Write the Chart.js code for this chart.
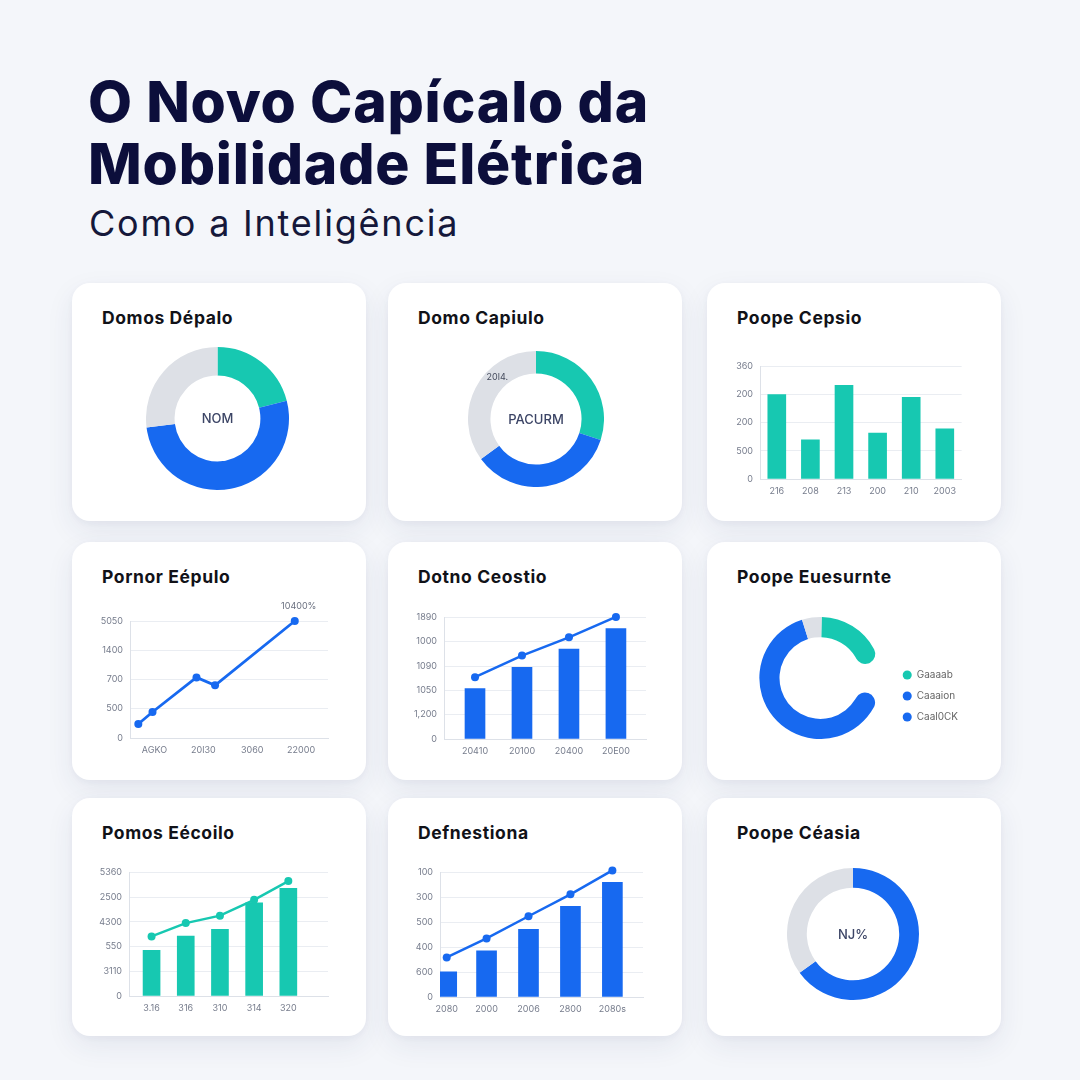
<!DOCTYPE html>
<html lang="pt">
<head>
<meta charset="utf-8">
<title>O Novo Capícalo da Mobilidade Elétrica</title>
<script src="https://cdn.jsdelivr.net/npm/chart.js@4.4.1/dist/chart.umd.min.js"></script>
<style>
  html, body { margin: 0; padding: 0; }
  body {
    width: 1080px; height: 1080px; position: relative; overflow: hidden;
    background: #f4f6fa;
    font-family: Inter, "Noto Sans", sans-serif;
  }
  h1 {
    position: absolute; left: 88px; top: 71px; margin: 0;
    font-size: 57px; line-height: 62px; font-weight: 800; color: #0c0e3b; letter-spacing: 0.8px;
  }
  .sub {
    position: absolute; left: 89px; top: 203px; margin: 0;
    font-size: 36px; line-height: 40px; font-weight: 400; color: #15183a; letter-spacing: 1.8px;
  }
  .card {
    position: absolute; width: 294px; height: 238px; background: #fff; border-radius: 18px;
    box-shadow: 0 10px 28px rgba(40, 55, 100, 0.08), 0 2px 6px rgba(40, 55, 100, 0.04);
  }
  .card h2 {
    position: absolute; left: 30px; top: 24px; margin: 0;
    font-size: 17.5px; line-height: 21px; font-weight: 700; color: #111218; letter-spacing: 0.6px;
  }
  .box { position: absolute; }
</style>
</head>
<body>

<h1>O Novo Capícalo da<br>Mobilidade Elétrica</h1>
<p class="sub">Como a Inteligência</p>

<div class="card" style="left:72px;top:283px"><h2>Domos Dépalo</h2>
  <div class="box" style="left:74px;top:64px;width:143px;height:143px"><canvas id="g1"></canvas></div></div>
<div class="card" style="left:388px;top:283px"><h2>Domo Capiulo</h2>
  <div class="box" style="left:80px;top:68px;width:136px;height:136px"><canvas id="g2"></canvas></div></div>
<div class="card" style="left:707px;top:283px"><h2>Poope Cepsio</h2>
  <div class="box" style="left:29px;top:71px;width:227px;height:145px"><canvas id="g3"></canvas></div></div>

<div class="card" style="left:72px;top:542px"><h2>Pornor Eépulo</h2>
  <div class="box" style="left:28px;top:53px;width:232px;height:163px"><canvas id="g4"></canvas></div></div>
<div class="card" style="left:388px;top:542px"><h2>Dotno Ceostio</h2>
  <div class="box" style="left:26px;top:63px;width:236px;height:154px"><canvas id="g5"></canvas></div></div>
<div class="card" style="left:707px;top:542px"><h2>Poope Euesurnte</h2>
  <div class="box" style="left:42px;top:75px;width:219px;height:122px"><canvas id="g6"></canvas></div></div>

<div class="card" style="left:72px;top:798px"><h2>Pomos Eécoilo</h2>
  <div class="box" style="left:27px;top:62px;width:233px;height:156px"><canvas id="g7"></canvas></div></div>
<div class="card" style="left:388px;top:798px"><h2>Defnestiona</h2>
  <div class="box" style="left:22px;top:62px;width:237px;height:157px"><canvas id="g8"></canvas></div></div>
<div class="card" style="left:707px;top:798px"><h2>Poope Céasia</h2>
  <div class="box" style="left:80px;top:70px;width:132px;height:132px"><canvas id="g9"></canvas></div></div>

<script>
// Dados dos gráficos

// Cartão 1 - rosca (verde, azul, cinza)
const rosca1Valores = [21, 52, 27];
const rosca1Centro = 'NOM';

// Cartão 2 - rosca (verde, azul, cinza)
const rosca2Valores = [30, 35, 35];
const rosca2Centro = 'PACURM';
const rosca2Rotulo = '20l4.';

// Cartão 3 - barras
const barras3Categorias = ['216', '208', '213', '200', '210', '2003'];
const barras3Valores = [300, 139, 333, 163, 290, 178];
const barras3EixoY = ['0', '500', '200', '200', '360'];

// Cartão 4 - linha
const linha4PosX = [0.17, 0.46, 1.36, 1.74, 3.37];
const linha4Valores = [48, 89, 207, 180, 400];
const linha4TicksX = [0.5, 1.5, 2.5, 3.5];
const linha4RotulosX = ['AGKO', '20l30', '3060', '22000'];
const linha4EixoY = ['0', '500', '700', '1400', '5050'];
const linha4Destaque = '10400%';

// Cartão 5 - barras + linha (azul)
const combo5PosX = [0.66, 1.66, 2.66, 3.66];
const combo5RotulosX = ['20410', '20100', '20400', '20E00'];
const combo5Barras = [207, 295, 370, 454];
const combo5Linha = [254, 343, 418, 502];
const combo5EixoY = ['0', '1,200', '1050', '1090', '1000', '1890'];

// Cartão 6 - rosca aberta (azul, cinza, verde, vazio)
const rosca6Valores = [235, 19, 71.5, 34.5];
const legenda6Nomes = ['Gaaaab', 'Caaaion', 'Caal0CK'];

// Cartão 7 - barras + linha (verde)
const combo7PosX = [0.66, 1.66, 2.66, 3.66, 4.66];
const combo7RotulosX = ['3.16', '316', '310', '314', '320'];
const combo7Barras = [185, 242, 270, 377, 436];
const combo7Linha = [241, 295, 325, 389, 465];
const combo7EixoY = ['0', '3110', '550', '4300', '2500', '5360'];

// Cartão 8 - barras + linha (azul)
const combo8PosX = [0.16, 1.11, 2.11, 3.11, 4.11];
const combo8RotulosX = ['2080', '2000', '2006', '2800', '2080s'];
const combo8Barras = [101, 185, 272, 364, 460];
const combo8Linha = [159, 235, 324, 412, 508];
const combo8EixoY = ['0', '600', '400', '500', '300', '100'];

// Cartão 9 - rosca (azul, cinza)
const rosca9Valores = [65, 35];
const rosca9Centro = 'NJ%';

// Cores
const AZUL = '#1769f0';
const VERDE = '#17c8b1';
const CINZA = '#dde0e6';
const GRADE = '#eaedf2';
const EIXO = '#dde1e8';
const TEXTO_EIXO = '#767c8c';

Chart.defaults.font.family = "Inter, 'Noto Sans', sans-serif";
Chart.defaults.animation = false;
Chart.defaults.events = [];
Chart.defaults.maintainAspectRatio = false;
Chart.defaults.plugins.tooltip.enabled = false;
Chart.defaults.plugins.legend.display = false;

// Plugin para textos extras (centro da rosca, rótulo de ponto, rótulo de fatia)
const textoExtra = {
    id: 'textoExtra',
    afterDatasetsDraw(chart, args, opts) {
        const ctx = chart.ctx;
        ctx.save();
        ctx.textAlign = 'center';
        ctx.textBaseline = 'middle';
        if (opts.centro) {
            const arco = chart.getDatasetMeta(0).data[0];
            ctx.font = "500 13px Inter, 'Noto Sans', sans-serif";
            ctx.fillStyle = '#3c4566';
            ctx.fillText(opts.centro, arco.x, arco.y + 1);
        }
        if (opts.ponto) {
            const pontos = chart.getDatasetMeta(0).data;
            const p = pontos[pontos.length - 1];
            ctx.font = "9px Inter, 'Noto Sans', sans-serif";
            ctx.fillStyle = '#6b7180';
            ctx.fillText(opts.ponto, p.x + 4, p.y - 15);
        }
        if (opts.fatia) {
            const a = chart.getDatasetMeta(0).data[opts.fatia.indice];
            const r = (a.innerRadius + a.outerRadius) / 2;
            const ang = opts.fatia.angulo * Math.PI / 180 - Math.PI / 2;
            ctx.font = "9px Inter, 'Noto Sans', sans-serif";
            ctx.fillStyle = '#444a5c';
            ctx.fillText(opts.fatia.texto, a.x + r * Math.cos(ang), a.y + r * Math.sin(ang));
        }
        ctx.restore();
    }
};

// Eixo Y com rótulos da imagem
function eixoY(maximo, passo, rotulos, largura) {
    return {
        min: 0,
        max: maximo,
        grid: { color: GRADE, lineWidth: 1, drawTicks: false },
        border: { display: true, color: EIXO },
        ticks: {
            stepSize: passo, padding: 7, color: TEXTO_EIXO, font: { size: 9 },
            callback: (v, i) => rotulos[i]
        },
        afterFit: s => { s.width = largura; }
    };
}

// Eixo X linear com posições dos rótulos
function eixoXLinear(maximo, posicoes, rotulos) {
    return {
        type: 'linear',
        min: 0,
        max: maximo,
        offset: false,
        grid: { display: false, drawTicks: false, offset: false },
        border: { display: true, color: EIXO },
        afterBuildTicks: s => { s.ticks = posicoes.map(v => ({ value: v })); },
        ticks: {
            padding: 7, color: TEXTO_EIXO, font: { size: 9 }, maxRotation: 0, autoSkip: false,
            callback: (v, i) => rotulos[i]
        },
        afterFit: s => { s.height = 20; }
    };
}

function pares(xs, ys) {
    return xs.map((x, i) => ({ x: x, y: ys[i] }));
}

// Gráfico de rosca simples
function criarRosca(id, valores, cores, corte, extra) {
    new Chart(document.getElementById(id), {
        type: 'doughnut',
        data: {
            datasets: [{
                data: valores,
                backgroundColor: cores,
                borderWidth: 0,
                hoverOffset: 0
            }]
        },
        options: {
            cutout: corte,
            layout: { padding: 0 },
            plugins: { textoExtra: extra }
        },
        plugins: [textoExtra]
    });
}

// Gráfico de barras + linha com eixo X linear
function criarCombo(id, posX, barras, linha, cor, espessura, maxX, rotulosX, maxY, rotulosY) {
    new Chart(document.getElementById(id), {
        type: 'bar',
        data: {
            datasets: [{
                type: 'line',
                data: pares(posX, linha),
                borderColor: cor,
                borderWidth: 2.5,
                pointRadius: 4,
                pointBackgroundColor: cor,
                pointBorderWidth: 0,
                tension: 0,
                clip: false,
                order: 0
            }, {
                type: 'bar',
                data: pares(posX, barras),
                backgroundColor: cor,
                barThickness: espessura,
                borderWidth: 0,
                order: 1
            }]
        },
        options: {
            layout: { padding: { top: 8, left: 0, right: 0, bottom: 0 } },
            scales: {
                x: eixoXLinear(maxX, posX, rotulosX),
                y: eixoY(maxY, 100, rotulosY, 30)
            }
        }
    });
}

criarRosca('g1', rosca1Valores, [VERDE, AZUL, CINZA], '60%', { centro: rosca1Centro });
criarRosca('g2', rosca2Valores, [VERDE, AZUL, CINZA], '67%', {
    centro: rosca2Centro,
    fatia: { indice: 2, angulo: 317, texto: rosca2Rotulo }
});
criarRosca('g9', rosca9Valores, [AZUL, CINZA], '70%', { centro: rosca9Centro });

// Cartão 3 - barras verdes
new Chart(document.getElementById('g3'), {
    type: 'bar',
    data: {
        labels: barras3Categorias,
        datasets: [{
            data: barras3Valores,
            backgroundColor: VERDE,
            barThickness: 18,
            borderWidth: 0
        }]
    },
    options: {
        layout: { padding: { top: 8, left: 0, right: 0, bottom: 0 } },
        scales: {
            x: {
                grid: { display: false, drawTicks: false },
                border: { display: true, color: EIXO },
                ticks: { padding: 7, color: TEXTO_EIXO, font: { size: 9 }, maxRotation: 0, autoSkip: false },
                afterFit: s => { s.height = 20; }
            },
            y: eixoY(400, 100, barras3EixoY, 24)
        }
    }
});

// Cartão 4 - linha azul
new Chart(document.getElementById('g4'), {
    type: 'line',
    data: {
        datasets: [{
            data: pares(linha4PosX, linha4Valores),
            borderColor: AZUL,
            borderWidth: 2.8,
            pointRadius: 4,
            pointBackgroundColor: AZUL,
            pointBorderWidth: 0,
            tension: 0,
            clip: false
        }]
    },
    options: {
        layout: { padding: { top: 26, left: 0, right: 0, bottom: 0 } },
        scales: {
            x: eixoXLinear(4.05, linha4TicksX, linha4RotulosX),
            y: eixoY(400, 100, linha4EixoY, 30)
        },
        plugins: { textoExtra: { ponto: linha4Destaque } }
    },
    plugins: [textoExtra]
});

criarCombo('g5', combo5PosX, combo5Barras, combo5Linha, AZUL, 20, 4.3, combo5RotulosX, 500, combo5EixoY);
criarCombo('g7', combo7PosX, combo7Barras, combo7Linha, VERDE, 17, 5.82, combo7RotulosX, 500, combo7EixoY);
criarCombo('g8', combo8PosX, combo8Barras, combo8Linha, AZUL, 20, 4.84, combo8RotulosX, 500, combo8EixoY);

// Cartão 6 - rosca aberta com legenda
const legenda6Cores = [VERDE, AZUL, AZUL];
new Chart(document.getElementById('g6'), {
    type: 'doughnut',
    data: {
        labels: ['a', 'b', 'c', 'd'],
        datasets: [{
            data: rosca6Valores,
            backgroundColor: [AZUL, CINZA, VERDE, 'rgba(0,0,0,0)'],
            borderWidth: 0,
            hoverOffset: 0,
            borderRadius: c => {
                if (c.dataIndex === 0) return { outerStart: 10, innerStart: 10, outerEnd: 0, innerEnd: 0 };
                if (c.dataIndex === 2) return { outerStart: 0, innerStart: 0, outerEnd: 10, innerEnd: 10 };
                return 0;
            }
        }]
    },
    options: {
        cutout: '67%',
        rotation: 107.5,
        layout: { padding: 0 },
        plugins: {
            legend: {
                display: true,
                position: 'right',
                align: 'center',
                title: { display: true, text: '', padding: 0, font: { size: 30 } },
                labels: {
                    usePointStyle: true,
                    boxWidth: 9,
                    boxHeight: 6.4,
                    padding: 11,
                    color: '#5d6373',
                    font: { size: 10 },
                    generateLabels: () => legenda6Nomes.map((t, i) => ({
                        text: t,
                        fillStyle: legenda6Cores[i],
                        strokeStyle: legenda6Cores[i],
                        lineWidth: 0,
                        pointStyle: 'circle',
                        hidden: false,
                        index: i
                    }))
                }
            }
        }
    }
});
</script>
</body>
</html>
